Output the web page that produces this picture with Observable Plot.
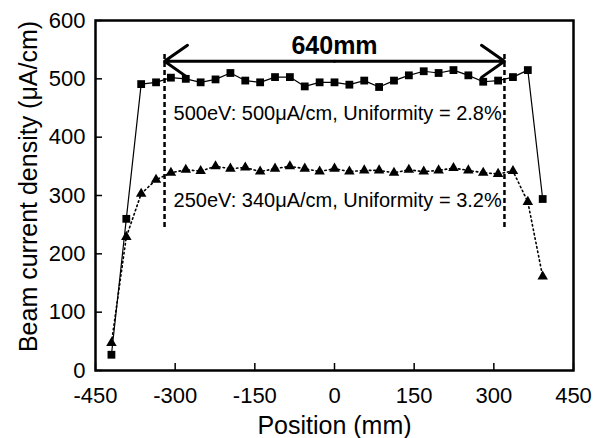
<!DOCTYPE html>
<html>
<head>
<meta charset="utf-8">
<script src="https://cdn.jsdelivr.net/npm/d3@7"></script>
<script src="https://cdn.jsdelivr.net/npm/@observablehq/plot@0.6"></script>
<style>
  html, body { margin: 0; padding: 0; background: #fff; }
  #chart { width: 610px; height: 438px; }
</style>
</head>
<body>
<div id="chart"></div>
<script>
// Positions (mm)
const positions = [-420, -392, -364, -336, -308, -280, -252, -224, -196, -168, -140, -112, -84, -56, -28,
                   0, 28, 56, 84, 112, 140, 168, 196, 224, 252, 280, 308, 336, 364, 392];
// 500 eV beam current density (µA/cm)
const beam500 = [27, 260, 491, 494, 502, 500, 494, 499, 510, 497, 494, 503, 503, 487, 494,
                 494, 490, 497, 486, 497, 506, 513, 510, 515, 506, 495, 497, 503, 515, 294];
// 250 eV beam current density (µA/cm)
const beam250 = [47, 229, 303, 327, 339, 344, 342, 350, 346, 348, 341, 346, 350, 346, 341,
                 346, 341, 343, 343, 339, 344, 341, 343, 347, 343, 339, 337, 342, 289, 161];

const xTicks = [-450, -300, -150, 0, 150, 300, 450];
const yTicks = [0, 100, 200, 300, 400, 500, 600];

// Uniform region bracket
const bracketX = [-320, 320];
const bracketY1 = 245, bracketY2 = 545, arrowY = 530;
const spanLabel = {x: 0, y: 557, text: "640mm"};
const notes = [
  {x: -303, y: 440, text: "500eV: 500μA/cm, Uniformity = 2.8%"},
  {x: -303, y: 291, text: "250eV: 340μA/cm, Uniformity = 3.2%"}
];
const xLabel = "Position (mm)";
const yLabel = "Beam current density (μA/cm)";

const d500 = positions.map((p, i) => ({x: p, y: beam500[i]}));
const d250 = positions.map((p, i) => ({x: p, y: beam250[i]}));

const W = 610, H = 438, mL = 95, mR = 37, mT = 20, mB = 68;
const plotW = W - mL - mR, plotH = H - mT - mB;
const fmt = d => String(d);

const chart = Plot.plot({
  width: W, height: H,
  marginLeft: mL, marginRight: mR, marginTop: mT, marginBottom: mB,
  style: {fontFamily: "'Liberation Sans', Arial, sans-serif", color: "black", background: "white"},
  x: {domain: [-450, 450]},
  y: {domain: [0, 600]},
  marks: [
    Plot.gridY({ticks: yTicks, stroke: "black", strokeOpacity: 1, strokeWidth: 1.5, insetRight: plotW - 7}),
    Plot.gridX({ticks: xTicks, stroke: "black", strokeOpacity: 1, strokeWidth: 1.5, insetTop: plotH - 7}),
    Plot.axisX({ticks: xTicks, tickFormat: fmt, tickSize: 0, tickPadding: 17, fontSize: 22, label: null}),
    Plot.axisY({ticks: yTicks, tickFormat: fmt, tickSize: 0, tickPadding: 10, fontSize: 22, label: null}),
    Plot.ruleX(bracketX, {y1: bracketY1, y2: bracketY2, stroke: "black", strokeWidth: 2.5, strokeDasharray: "5,3"}),
    Plot.arrow(bracketX, {x1: 0, y1: arrowY, x2: d => d, y2: arrowY, bend: 0, headLength: 14, headAngle: 70, stroke: "black", strokeWidth: 3, inset: 0}),
    Plot.line(d500, {x: "x", y: "y", stroke: "black", strokeWidth: 1.2}),
    Plot.line(d250, {x: "x", y: "y", stroke: "black", strokeWidth: 1.6, strokeDasharray: "1.5,3"}),
    Plot.dot(d500, {x: "x", y: "y", symbol: "square", r: 4.4, fill: "black", stroke: "none"}),
    Plot.dot(d250, {x: "x", y: "y", symbol: "triangle", r: 3.9, fill: "black", stroke: "none"}),
    Plot.text([spanLabel], {x: "x", y: "y", text: "text", fontSize: 25, fontWeight: "bold", fill: "black"}),
    Plot.text(notes, {x: "x", y: "y", text: "text", textAnchor: "start", fontSize: 20, fill: "black"}),
    Plot.text([xLabel], {frameAnchor: "bottom", textAnchor: "middle", lineAnchor: "bottom", dy: 63, fontSize: 25, fill: "black"}),
    Plot.text([yLabel], {frameAnchor: "left", textAnchor: "middle", lineAnchor: "middle", rotate: -90, dx: -67, dy: -9, fontSize: 25, fill: "black"}),
    Plot.frame({stroke: "black", strokeWidth: 2.5})
  ]
});
document.getElementById("chart").appendChild(chart);
</script>
</body>
</html>
